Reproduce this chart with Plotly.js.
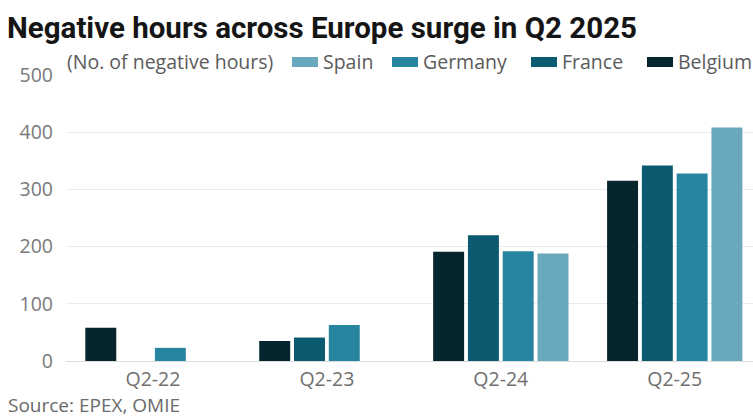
<!DOCTYPE html>
<html>
<head>
<meta charset="utf-8">
<script src="https://cdn.plot.ly/plotly-3.0.1.min.js"></script>
<style>html,body{margin:0;padding:0;background:#fff;}#chart{width:753px;height:419px;}</style>
</head>
<body>
<div id="chart"></div>
<script>
const categories = ["Q2-22", "Q2-23", "Q2-24", "Q2-25"];
const belgium = [58, 35, 191, 315];
const france  = [0, 41, 220, 342];
const germany = [23, 63, 192, 328];
const spain   = [0, 0, 188, 408];
const seriesNames = ["Belgium", "France", "Germany", "Spain"];
const seriesValues = [belgium, france, germany, spain];
const seriesColors = ["#06262e", "#0b5a70", "#2785a0", "#6aa9bd"];
const yTicks = [0, 100, 200, 300, 400, 500];
const titleText = "Negative hours across Europe surge in Q2 2025";
const subtitleText = "(No. of negative hours)";
const sourceText = "Source: EPEX, OMIE";

const W = 753, H = 419;
const mL = 66, mR = 0, mT = 75, mB = 58;
const pw = W - mL - mR, ph = H - mT - mB;
const px = x => (x - mL) / pw;          // pixel x -> paper x
const py = y => (H - mB - y) / ph;      // pixel y -> paper y

const FONT = "'Open Sans', Roboto, sans-serif";
const TFONT = "Roboto, 'Open Sans', sans-serif";

const traces = seriesNames.map((n, i) => ({
  type: "bar",
  name: n,
  x: categories,
  y: seriesValues[i],
  marker: {color: seriesColors[i]},
  showlegend: false,
  hoverinfo: "x+y+name"
}));

// custom legend (order as in the reference: Spain, Germany, France, Belgium)
const legendOrder = [3, 2, 1, 0];
const legendX = [292, 392, 531, 647];
const shapes = [];
const annotations = [];
legendOrder.forEach((si, k) => {
  const x0 = legendX[k];
  shapes.push({type: "rect", xref: "paper", yref: "paper",
    x0: px(x0), x1: px(x0 + 26), y0: py(67), y1: py(57),
    fillcolor: seriesColors[si], line: {width: 0}});
  annotations.push({xref: "paper", yref: "paper", x: px(x0 + 29), y: py(61),
    xanchor: "left", yanchor: "middle", showarrow: false,
    text: seriesNames[si], font: {family: FONT, size: 19.5, color: "#5a5a5a"}});
});
annotations.push({xref: "paper", yref: "paper", x: px(65), y: py(61),
  xanchor: "left", yanchor: "middle", showarrow: false,
  text: subtitleText, font: {family: FONT, size: 19.5, color: "#5a5a5a"}});
annotations.push({xref: "paper", yref: "paper", x: px(6), y: py(405),
  xanchor: "left", yanchor: "middle", showarrow: false,
  text: sourceText, font: {family: FONT, size: 19, color: "#6a6a6a"}});

const layout = {
  width: W, height: H,
  margin: {l: mL, r: mR, t: mT, b: mB, pad: 0},
  paper_bgcolor: "#fff", plot_bgcolor: "#fff",
  title: {text: "<b>" + titleText + "</b>", x: 7 / W, xanchor: "left",
    xref: "container", yref: "container", y: 1 - 28 / H, yanchor: "middle",
    font: {family: TFONT, size: 29.5, color: "#151515"}},
  barmode: "group", bargap: 0.2, bargroupgap: 0.11,
  xaxis: {type: "category", range: [-0.5, 3.45], showgrid: false, zeroline: false,
    showline: false, ticks: "", tickfont: {family: FONT, size: 19.5, color: "#707070"},
    ticklabelstandoff: 4, fixedrange: true},
  yaxis: {range: [0, 500], tickvals: yTicks, ticktext: yTicks.map(String),
    showgrid: true, gridcolor: "#ececec", gridwidth: 1,
    zeroline: true, zerolinecolor: "#dcdcdc", zerolinewidth: 1,
    showline: false, ticks: "", ticklabelstandoff: 12,
    tickfont: {family: FONT, size: 19.5, color: "#7a7a7a"}, fixedrange: true},
  shapes: shapes,
  annotations: annotations,
  showlegend: false
};

Plotly.newPlot("chart", traces, layout, {displayModeBar: false, staticPlot: true});
</script>
</body>
</html>
